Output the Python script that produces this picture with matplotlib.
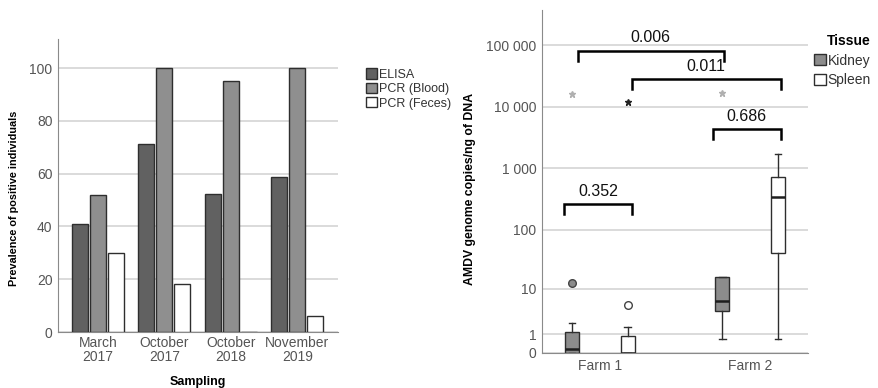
import numpy as np
import matplotlib.pyplot as plt
from matplotlib.patches import Patch

plt.rcParams['font.family'] = ['Liberation Sans', 'DejaVu Sans']

# prevalence per sampling (%)
samplings = ['March\n2017', 'October\n2017', 'October\n2018', 'November\n2019']
elisa = [40.8, 71.3, 52.3, 58.8]
pcr_blood = [51.9, 100, 95.1, 100]
pcr_feces = [30.0, 18.3, 0, 6.0]

# AMDV copies per ng DNA, box statistics per farm and tissue
farms = ['Farm 1', 'Farm 2']
kidney_q1 = [0, 3.75]
kidney_med = [0.15, 6.0]
kidney_q3 = [1.22, 16.3]
kidney_lo = [0, 0.69]
kidney_hi = [2.07, 16.3]
kidney_out = [[12.8], []]
kidney_ext = [[15800], [16600]]
spleen_q1 = [0, 41]
spleen_med = [0, 336]
spleen_q3 = [0.91, 727]
spleen_lo = [0, 0.69]
spleen_hi = [1.67, 1680]
spleen_out = [[5.1], []]
spleen_ext = [[11700], []]

# pairwise p-values: (label, x1, x2, bracket height)
p_values = [('0.006', 0.854, 1.824, 80700),
            ('0.011', 1.213, 2.203, 28000),
            ('0.686', 1.751, 2.203, 4330),
            ('0.352', 0.761, 1.213, 258)]

W, H = 879, 388
fig = plt.figure(figsize=(W / 100, H / 100), dpi=100)
fig.patch.set_facecolor('white')

tick_col = '#555555'
grid_col = '#d4d4d4'
edge = '#2e2e2e'

# ---- bar chart ----
ax = fig.add_axes([58 / W, (H - 332) / H, 280 / W, (332 - 39) / H])
x = np.arange(len(samplings))
bw, off = 0.24, 0.27
ax.bar(x - off, elisa, bw, color='#616161', edgecolor=edge, linewidth=1, zorder=3)
ax.bar(x, pcr_blood, bw, color='#8f8f8f', edgecolor=edge, linewidth=1, zorder=3)
ax.bar(x + off, pcr_feces, bw, color='white', edgecolor=edge, linewidth=1, zorder=3)
ax.set_xlim(-0.6, 3.61)
ax.set_ylim(0, 111)
ax.set_yticks([0, 20, 40, 60, 80, 100])
ax.set_xticks(x)
ax.set_xticklabels(samplings, linespacing=0.95)
ax.yaxis.grid(True, color=grid_col, linewidth=1.2, zorder=0)
ax.tick_params(length=0, labelsize=10, colors=tick_col, pad=4)
ax.tick_params(axis='x', pad=3)
for s in ['top', 'right']:
    ax.spines[s].set_visible(False)
for s in ['left', 'bottom']:
    ax.spines[s].set_color('#8a8a8a')
ax.set_ylabel('Prevalence of positive individuals', fontsize=7.8, fontweight='bold')
ax.yaxis.set_label_coords(-0.14, 0.457)
ax.set_xlabel('Sampling', fontsize=9, fontweight='bold', labelpad=9)

handles = [Patch(facecolor='#616161', edgecolor=edge, label='ELISA'),
           Patch(facecolor='#8f8f8f', edgecolor=edge, label='PCR (Blood)'),
           Patch(facecolor='white', edgecolor=edge, label='PCR (Feces)')]
fig.legend(handles=handles, loc='upper left', bbox_to_anchor=(360 / W, 1 - 62 / H),
           frameon=False, fontsize=9, handlelength=0.9, handleheight=0.9,
           handletextpad=0.1, labelspacing=0.15, borderpad=0, labelcolor='#333333')

# ---- box plot on log10(y + 1) scale ----
bx = fig.add_axes([542 / W, (H - 353) / H, 266 / W, (353 - 10) / H])
bx.set_yscale('function', functions=(lambda v: np.log10(np.clip(v, 0, None) + 1),
                                     lambda t: 10 ** t - 1))
pos = np.arange(1, len(farms) + 1)
d = 0.186

def stats(q1, med, q3, lo, hi, out):
    return [dict(q1=q1[i], med=med[i], q3=q3[i], whislo=lo[i], whishi=hi[i],
                 fliers=out[i]) for i in range(len(q1))]

kw = dict(widths=0.093, capwidths=0.045, showfliers=True, patch_artist=True,
          whiskerprops=dict(color=edge, linewidth=1),
          capprops=dict(color=edge, linewidth=1))
bx.bxp(stats(kidney_q1, kidney_med, kidney_q3, kidney_lo, kidney_hi, kidney_out),
       positions=pos - d,
       boxprops=dict(facecolor='#8c8c8c', edgecolor=edge, linewidth=1),
       medianprops=dict(color='#1e1e1e', linewidth=1.8),
       flierprops=dict(marker='o', markerfacecolor='#8c8c8c', markeredgecolor='#444444',
                       markersize=5.5), **kw)
bx.bxp(stats(spleen_q1, spleen_med, spleen_q3, spleen_lo, spleen_hi, spleen_out),
       positions=pos + d,
       boxprops=dict(facecolor='white', edgecolor=edge, linewidth=1),
       medianprops=dict(color='#1e1e1e', linewidth=1.8),
       flierprops=dict(marker='o', markerfacecolor='white', markeredgecolor='#444444',
                       markersize=5.5), **kw)
for i, p in enumerate(pos):
    for v in kidney_ext[i]:
        bx.plot(p - d, v, marker='*', color='#b0b0b0', markersize=5, linestyle='none', zorder=4)
    for v in spleen_ext[i]:
        bx.plot(p + d, v, marker='*', color='#222222', markersize=5, linestyle='none', zorder=4)

yt = [0, 1, 10, 100, 1000, 10000, 100000]
bx.set_yticks(yt)
bx.set_yticklabels(['0', '1', '10', '100', '1 000', '10 000', '100 000'])
bx.set_ylim(0, 10 ** 5.57 - 1)
bx.set_xlim(0.615, 2.385)
bx.set_xticks(pos)
bx.set_xticklabels(farms)
bx.yaxis.grid(True, color=grid_col, linewidth=1.2, zorder=0)
bx.set_axisbelow(True)
bx.tick_params(length=0, labelsize=10, colors=tick_col, pad=4)
for s in ['top', 'right']:
    bx.spines[s].set_visible(False)
for s in ['left', 'bottom']:
    bx.spines[s].set_color('#8a8a8a')
bx.set_ylabel('AMDV genome copies/ng of DNA', fontsize=8.8, fontweight='bold')
bx.yaxis.set_label_coords(-0.25, 0.478)

# significance brackets
for lab, x1, x2, h in p_values:
    t = np.log10(h + 1)
    leg = 10 ** (t - 0.16) - 1
    bx.plot([x1, x1, x2, x2], [leg, h, h, leg], color='black', linewidth=1.8,
            solid_joinstyle='miter', zorder=5)
    bx.text((x1 + x2) / 2, 10 ** (t + 0.21) - 1, lab, ha='center', va='center',
            fontsize=11.5, color='#111111')

tissue = [Patch(facecolor='#8c8c8c', edgecolor=edge, label='Kidney'),
          Patch(facecolor='white', edgecolor=edge, label='Spleen')]
leg2 = fig.legend(handles=tissue, loc='upper right', bbox_to_anchor=(878 / W, 1 - 27 / H),
                  frameon=False, fontsize=10, handlelength=0.9, handleheight=0.9,
                  handletextpad=0.1, labelspacing=0.4, borderpad=0, labelcolor='#333333',
                  title='Tissue', title_fontproperties={'weight': 'bold', 'size': 10})
leg2._legend_box.align = 'right'

fig.savefig('out.png', dpi=100, facecolor='white')
